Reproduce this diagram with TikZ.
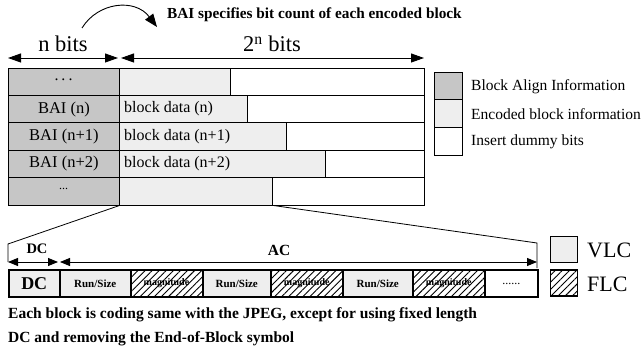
\documentclass[tikz,border=0pt]{standalone}
\usepackage{fontspec}
\setmainfont{Liberation Serif}
\usetikzlibrary{arrows.meta,patterns.meta}
\definecolor{baigray}{HTML}{C6C6C6}
\definecolor{encgray}{HTML}{EEEEEE}
\tikzset{
  cellbase/.style={draw=black, line width=0.8pt, inner sep=0pt, minimum height=27.4pt, anchor=west},
  baicell/.style={cellbase, fill=baigray, font=\fontsize{16.5}{18}\selectfont},
  enccell/.style={cellbase, fill=encgray},
  dumcell/.style={cellbase, fill=white},
  celltxt/.style={anchor=west, inner sep=0pt, font=\fontsize{16}{18}\selectfont},
  legbox/.style={draw=black, line width=0.8pt, inner sep=0pt, minimum width=28pt, minimum height=27.4pt},
  legtxt/.style={anchor=west, inner sep=0pt, font=\fontsize{15.5}{18}\selectfont},
  dimline/.style={line width=0.9pt, {Triangle[length=13pt,width=9pt]}-{Triangle[length=13pt,width=9pt]}},
  smalldim/.style={line width=0.9pt, {Triangle[length=10pt,width=8pt]}-{Triangle[length=10pt,width=8pt]}},
  stripcell/.style={draw=black, line width=1.5pt, inner sep=0pt, minimum height=27pt, anchor=west, font=\bfseries\fontsize{11}{13}\selectfont},
  vlc/.style={stripcell, fill=encgray},
  flc/.style={stripcell, pattern={Lines[angle=45,distance=5pt,line width=0.9pt]}, font=\bfseries\fontsize{10}{12}\selectfont},
  leg2/.style={draw=black, line width=1.8pt, inner sep=0pt, minimum width=27pt, minimum height=26pt},
}
\begin{document}
\begin{tikzpicture}[x=1pt,y=-1pt]
\useasboundingbox (0,0) rectangle (644,352);

% top curved arrow and caption
\coordinate (cs) at (82,28);
\coordinate (ce) at (157,27);
\draw[line width=0.9pt, -{Triangle[length=13pt,width=10pt]}] (cs) .. controls (98,2) and (135,-2) .. (ce);
\node[anchor=west, inner sep=0pt, font=\bfseries\fontsize{15.3}{17}\selectfont] (cap) at (167,15) {BAI specifies bit count of each encoded block};

% dimension arrows
\coordinate (nL) at (8,58);
\coordinate (nR) at (118,58);
\coordinate (pL) at (121,58);
\coordinate (pR) at (424,58);
\draw[dimline] (nL) -- (nR);
\draw[dimline] (pL) -- (pR);
\node[font=\fontsize{22.5}{24}\selectfont, inner sep=0pt] (nbits) at (63,44) {n bits};
\node[font=\fontsize{22.5}{24}\selectfont, inner sep=0pt] (pbits) at (272,44) {2\textsuperscript{n} bits};

% table rows
\node[baicell, minimum width=111pt] (b1) at (8,81.7) {};
\node[font=\fontsize{16}{18}\selectfont, inner sep=0pt] (b1t) at (63.5,80) {.\hspace{3pt}.\hspace{3pt}.};
\node[enccell, minimum width=111pt] (e1) at (119,81.7) {};
\node[dumcell, minimum width=194pt] (d1) at (230,81.7) {};

\node[baicell, minimum width=111pt] (b2) at (8,109.1) {BAI (n)};
\node[enccell, minimum width=128pt] (e2) at (119,109.1) {};
\node[celltxt] (e2t) at (124,109.1) {block data (n)};
\node[dumcell, minimum width=177pt] (d2) at (247,109.1) {};

\node[baicell, minimum width=111pt] (b3) at (8,136.5) {BAI (n+1)};
\node[enccell, minimum width=167pt] (e3) at (119,136.5) {};
\node[celltxt] (e3t) at (124,136.5) {block data (n+1)};
\node[dumcell, minimum width=138pt] (d3) at (286,136.5) {};

\node[baicell, minimum width=111pt] (b4) at (8,163.9) {BAI (n+2)};
\node[enccell, minimum width=206pt] (e4) at (119,163.9) {};
\node[celltxt] (e4t) at (124,163.9) {block data (n+2)};
\node[dumcell, minimum width=99pt] (d4) at (325,163.9) {};

\node[baicell, minimum width=111pt] (b5) at (8,191.3) {};
\node[font=\fontsize{12}{14}\selectfont, inner sep=0pt] (b5t) at (63.5,189) {...};
\node[enccell, minimum width=153pt] (e5) at (119,191.3) {};
\node[dumcell, minimum width=152pt] (d5) at (272,191.3) {};

% legend top
\node[legbox, fill=baigray] (l1) at (448,86.5) {};
\node[legbox, fill=encgray] (l2) at (448,113.5) {};
\node[legbox, fill=white, minimum height=28pt] (l3) at (448,141) {};
\node[legtxt] (l1t) at (471,87) {Block Align Information};
\node[legtxt] (l2t) at (471,114) {Encoded block information};
\node[legtxt] (l3t) at (471,142) {Insert dummy bits};

% zoom lines
\coordinate (zl1) at (8,244);
\coordinate (zl2) at (8,262);
\coordinate (zr1) at (537,243);
\coordinate (zr2) at (537,268);
\draw[line width=0.8pt] (b5.south east) -- (zl1) -- (zl2);
\draw[line width=0.8pt] (e5.south east) -- (zr1) -- (zr2);

% bottom dims
\coordinate (dcL) at (8,262);
\coordinate (dcR) at (58,262);
\coordinate (acL) at (60,262);
\coordinate (acR) at (537,262);
\draw[smalldim] (dcL) -- (dcR);
\draw[smalldim] (acL) -- (acR);
\node[font=\bfseries\fontsize{14.5}{16}\selectfont, inner sep=0pt] (dcl) at (37,249) {DC};
\node[font=\bfseries\fontsize{15.5}{17}\selectfont, inner sep=0pt] (acl) at (279,250) {AC};

% bottom strip
\node[vlc, minimum width=51pt, font=\bfseries\fontsize{18}{20}\selectfont] (s1) at (8,283.5) {DC};
\node[vlc, minimum width=71pt] (s2) at (59,283.5) {Run/Size};
\node[flc, minimum width=72pt] (s3) at (130,283.5) {magnitude};
\node[vlc, minimum width=68pt] (s4) at (202,283.5) {Run/Size};
\node[flc, minimum width=72pt] (s5) at (270,283.5) {magnitude};
\node[vlc, minimum width=70pt] (s6) at (342,283.5) {Run/Size};
\node[flc, minimum width=72pt] (s7) at (412,283.5) {magnitude};
\node[stripcell, fill=white, minimum width=53pt, font=\fontsize{12}{14}\selectfont] (s8) at (484,283.5) {......};

% bottom legend
\node[leg2, fill=encgray] (v1) at (564,249.5) {};
\node[leg2, pattern={Lines[angle=45,distance=5pt,line width=0.9pt]}] (v2) at (564,283) {};
\node[anchor=west, inner sep=0pt, font=\fontsize{22}{24}\selectfont] (v1t) at (587,250) {VLC};
\node[anchor=west, inner sep=0pt, font=\fontsize{22}{24}\selectfont] (v2t) at (587,284) {FLC};

% bottom caption
\node[anchor=north west, inner sep=0pt, align=left, font=\bfseries\fontsize{15.5}{24}\selectfont] (foot) at (8,307) {Each block is coding same with the JPEG, except for using fixed length\\DC and removing the End-of-Block symbol};
\end{tikzpicture}
\end{document}
